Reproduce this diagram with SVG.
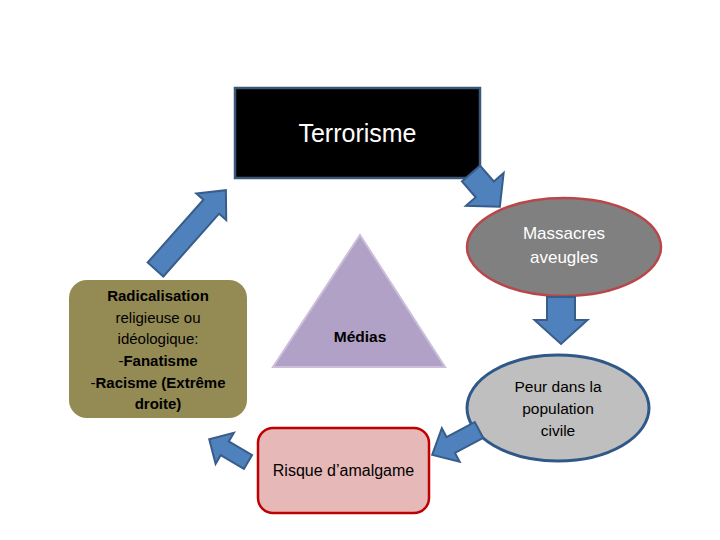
<svg xmlns="http://www.w3.org/2000/svg" width="720" height="540" viewBox="0 0 720 540">
<style>
text{font-family:"Liberation Sans",Arial,sans-serif;text-anchor:middle}
.arrow{fill:#4f81bd;stroke:#385d8a;stroke-width:2;stroke-linejoin:miter}
.b{font-weight:bold}
</style>
<rect width="720" height="540" fill="#ffffff"/>
<g id="terrorisme">
<rect x="235" y="88" width="245" height="90" fill="#000000" stroke="#3b5778" stroke-width="2.5"/>
<text x="357.5" y="142" font-size="25" fill="#ffffff">Terrorisme</text>
</g>
<g id="massacres">
<ellipse cx="564" cy="247" rx="97" ry="49" fill="#808080" stroke="#b9474a" stroke-width="2.5"/>
<text x="564" y="239" font-size="17" fill="#ffffff">Massacres</text>
<text x="564" y="263" font-size="17" fill="#ffffff">aveugles</text>
</g>
<g id="peur">
<ellipse cx="558" cy="408" rx="91" ry="53" fill="#bfbfbf" stroke="#2f5788" stroke-width="3"/>
<text x="558" y="392" font-size="15.5" fill="#000000">Peur dans la</text>
<text x="558" y="414" font-size="15.5" fill="#000000">population</text>
<text x="558" y="436" font-size="15.5" fill="#000000">civile</text>
</g>
<g id="risque">
<rect x="258" y="428" width="171" height="85" rx="15" fill="#e6b9b8" stroke="#c00000" stroke-width="2.5"/>
<text x="343.5" y="476" font-size="16" fill="#000000">Risque d’amalgame</text>
</g>
<g id="radicalisation">
<rect x="69" y="280" width="178" height="138" rx="18" fill="#948a54"/>
<text x="158" y="301" font-size="15" class="b" fill="#000000">Radicalisation</text>
<text x="158" y="323" font-size="15" fill="#000000">religieuse ou</text>
<text x="158" y="344" font-size="15" fill="#000000">idéologique:</text>
<text x="158" y="366" font-size="15" fill="#000000">-<tspan class="b">Fanatisme</tspan></text>
<text x="158" y="388" font-size="15" fill="#000000">-<tspan class="b">Racisme (Extrême</tspan></text>
<text x="158" y="409" font-size="15" class="b" fill="#000000">droite)</text>
</g>
<g id="medias">
<polygon points="360,235 273,367 445,367" fill="#b2a1c7" stroke="#cbbfdc" stroke-width="2"/>
<text x="360" y="342" font-size="15.5" class="b" fill="#000000">Médias</text>
</g>
<g id="connectors">
<path class="arrow" transform="translate(471,173.5) rotate(49)" d="M0,-12 L21,-12 L21,-25 L44,0 L21,25 L21,12 L0,12 Z"/>
<path class="arrow" transform="translate(561,297) rotate(90)" d="M0,-14 L23,-14 L23,-26.5 L47,0 L23,26.5 L23,14 L0,14 Z"/>
<path class="arrow" transform="translate(479,430) rotate(152)" d="M0,-9 L32,-9 L32,-19 L53,0 L32,19 L32,9 L0,9 Z"/>
<path class="arrow" transform="translate(248,462) rotate(210.5)" d="M0,-8 L27,-8 L27,-18 L45,0 L27,18 L27,8 L0,8 Z"/>
<path class="arrow" transform="translate(155.5,269.5) rotate(-48.4)" d="M0,-10.5 L84,-10.5 L84,-20 L106,0 L84,20 L84,10.5 L0,10.5 Z"/>
</g>
</svg>
